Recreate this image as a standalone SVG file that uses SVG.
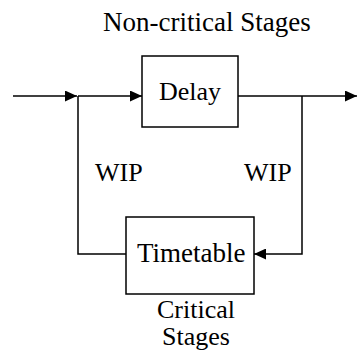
<svg xmlns="http://www.w3.org/2000/svg" width="357" height="354" viewBox="0 0 357 354">
<defs>
<style>
.box{fill:#fff;stroke:#000;stroke-width:1.5}
.ln{fill:none;stroke:#000;stroke-width:1.5}
</style>
<marker id="ah" markerWidth="13" markerHeight="11" refX="12" refY="5.5" orient="auto" markerUnits="userSpaceOnUse">
<path d="M0,0 L12,5.5 L0,11 Z" fill="#000"/>
</marker>
</defs>
<rect width="357" height="354" fill="#fff"/>
<text x="103" y="31" font-size="27" font-family="Liberation Serif">Non-critical Stages</text>
<g id="connectors">
<line class="ln" x1="13" y1="96" x2="77" y2="96" marker-end="url(#ah)"/>
<line class="ln" x1="78" y1="96" x2="142" y2="96" marker-end="url(#ah)"/>
<line class="ln" x1="238" y1="96" x2="357" y2="96" marker-end="url(#ah)"/>
<polyline class="ln" points="78,96 78,254 126,254"/>
<polyline class="ln" points="302,96 302,254 254,254" marker-end="url(#ah)"/>
<text x="95" y="181" font-size="26" font-family="Liberation Serif">WIP</text>
<text x="244" y="181" font-size="26" font-family="Liberation Serif">WIP</text>
</g>
<g id="delay">
<rect class="box" x="142" y="56" width="96" height="71"/>
<text x="159" y="100" font-size="26" font-family="Liberation Serif">Delay</text>
</g>
<g id="timetable">
<rect class="box" x="126" y="217" width="128" height="77"/>
<text x="137" y="262" font-size="27" font-family="Liberation Serif">Timetable</text>
<text x="157" y="318" font-size="26" font-family="Liberation Serif">Critical</text>
<text x="162" y="345" font-size="26" font-family="Liberation Serif">Stages</text>
</g>
</svg>
